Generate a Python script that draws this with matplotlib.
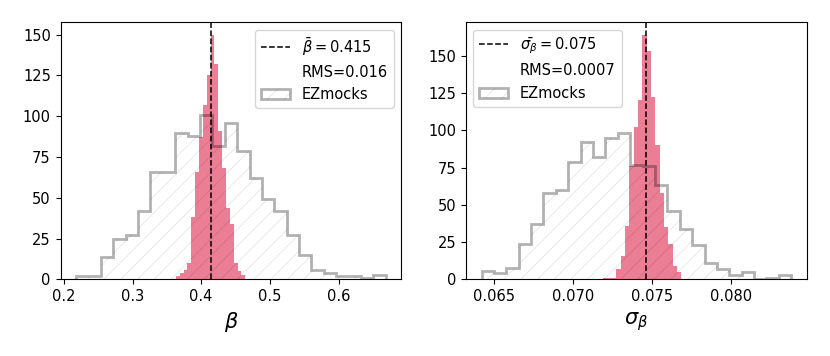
import numpy as np
import matplotlib
matplotlib.use("Agg")
import matplotlib.pyplot as plt
from matplotlib.ticker import MultipleLocator

# EZmocks histograms (25 bins)
ez_beta_range = (0.2178, 0.6689)
ez_beta_counts = [2, 2, 14, 25, 27, 42, 66, 66, 90, 88, 101, 82, 96, 79, 62,
                  49, 42, 27, 15, 6, 4, 2, 2, 1, 3]
ez_sigma_range = (0.06420, 0.08384)
ez_sigma_counts = [6, 4, 8, 24, 37, 58, 60, 79, 92, 82, 95, 98, 77, 76, 63,
                   46, 34, 23, 11, 7, 3, 5, 0, 1, 3]

# red histograms (18 bins)
fit_beta_range = (0.3630, 0.4643)
fit_beta_counts = [2, 4, 6, 10, 38, 66, 87, 107, 125, 150, 132, 91, 68, 44,
                   34, 10, 5, 3]
fit_sigma_range = (0.07192, 0.07686)
fit_sigma_counts = [1, 1, 1, 7, 16, 36, 76, 102, 120, 164, 153, 122, 90, 58,
                    35, 24, 9, 5]

mean_beta = 0.415
mean_sigma = 0.0746
labels_mean = [r"$\bar{\beta}=0.415$", r"$\bar{\sigma_{\beta}}=0.075$"]
labels_rms = ["RMS=0.016", "RMS=0.0007"]
xlabels = [r"$\beta$", r"$\sigma_{\beta}$"]
xticks = [[0.2, 0.3, 0.4, 0.5, 0.6], [0.065, 0.070, 0.075, 0.080]]

plt.rcParams["font.size"] = 10.5
plt.rcParams["hatch.linewidth"] = 0.5

fig, axes = plt.subplots(1, 2, figsize=(8.3, 3.56), dpi=100)
fig.subplots_adjust(left=0.073, right=0.972, top=0.937, bottom=0.215, wspace=0.19)


def draw(ax, ez_range, ez_counts, fit_range, fit_counts, mean, i, loc):
    ez_edges = np.linspace(ez_range[0], ez_range[1], len(ez_counts) + 1)
    fit_edges = np.linspace(fit_range[0], fit_range[1], len(fit_counts) + 1)

    ax.hist(fit_edges[:-1] + np.diff(fit_edges) / 2, bins=fit_edges,
            weights=fit_counts, color="crimson", alpha=0.55)
    ax.axvline(mean, color="k", ls="--", lw=1.1, label=labels_mean[i])
    ax.plot([], [], " ", label=labels_rms[i])
    _, _, patches = ax.hist(ez_edges[:-1] + np.diff(ez_edges) / 2, bins=ez_edges,
                            weights=ez_counts, histtype="step", color="k", alpha=0.3,
                            lw=2, hatch="//", label="EZmocks")
    # fainter hatch than the outline
    for p in patches:
        p._hatch_color = (0, 0, 0, 0.12)

    ax.set_xticks(xticks[i])
    ax.yaxis.set_major_locator(MultipleLocator(25))
    ax.set_xlabel(xlabels[i], fontsize=15)
    ax.legend(loc=loc, fontsize=10.5)


draw(axes[0], ez_beta_range, ez_beta_counts, fit_beta_range, fit_beta_counts,
     mean_beta, 0, "upper right")
draw(axes[1], ez_sigma_range, ez_sigma_counts, fit_sigma_range, fit_sigma_counts,
     mean_sigma, 1, "upper left")

fig.savefig("out.png", dpi=100)
